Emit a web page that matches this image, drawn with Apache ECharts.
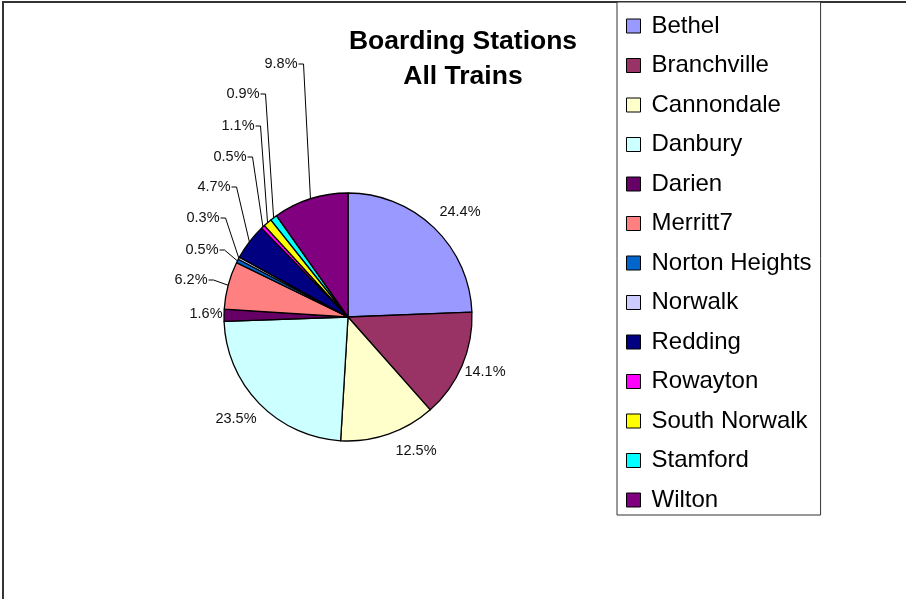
<!DOCTYPE html>
<html>
<head>
<meta charset="utf-8">
<script src="https://cdn.jsdelivr.net/npm/echarts@6/dist/echarts.min.js"></script>
<style>
html,body{margin:0;padding:0;background:#fff;}
#chart{width:906px;height:599px;}
</style>
</head>
<body>
<div id="chart"></div>
<script>
const stations = ['Bethel','Branchville','Cannondale','Danbury','Darien','Merritt7','Norton Heights','Norwalk','Redding','Rowayton','South Norwalk','Stamford','Wilton'];
const shares = [24.4, 14.1, 12.5, 23.5, 1.6, 6.2, 0.5, 0.3, 4.7, 0.5, 1.1, 0.9, 9.8];
const colors = ['#9999FF','#993366','#FFFFCC','#CCFFFF','#660066','#FF8080','#0066CC','#CCCCFF','#000080','#FF00FF','#FFFF00','#00FFFF','#800080'];
const titleLines = ['Boarding Stations','All Trains'];

// label placement (layout only)
const labelPos = [[460,212],[485,372],[416,451],[236,419],[206,314],[191,280],[202,250],[203,218],[214,187],[230,157],[238,126],[243,94],[281,64]];
const withLeader = [false,false,false,false,false,true,true,true,true,true,true,true,true];

const chart = echarts.init(document.getElementById('chart'));
const font = '"Liberation Sans", Arial, sans-serif';

chart.setOption({
  animation: false,
  backgroundColor: '#fff',
  color: colors,
  graphic: [{
    type: 'rect', z: -10, silent: true,
    shape: {x: 3, y: 2, width: 1000, height: 1000},
    style: {fill: 'none', stroke: '#333', lineWidth: 2}
  }],
  title: {
    text: titleLines.join('\n'),
    left: 463, top: 24, padding: 0,
    textAlign: 'center',
    textStyle: {fontFamily: font, fontSize: 26.5, fontWeight: 'bold', color: '#000', lineHeight: 35}
  },
  legend: {
    orient: 'vertical',
    left: 617, top: 2,
    padding: [12, 9, 3, 9],
    backgroundColor: '#fff',
    borderColor: '#333', borderWidth: 1,
    itemWidth: 14, itemHeight: 14, itemGap: 15.5,
    icon: 'rect',
    itemStyle: {borderColor: '#000', borderWidth: 1},
    textStyle: {fontFamily: font, fontSize: 24, color: '#000', lineHeight: 24, padding: [0,0,0,6]},
    data: stations
  },
  series: [{
    type: 'pie',
    center: [348, 317],
    radius: 124,
    startAngle: 90,
    clockwise: true,
    avoidLabelOverlap: false,
    itemStyle: {borderColor: '#000', borderWidth: 1.3},
    label: {
      show: true, position: 'outside',
      formatter: p => p.value.toFixed(1) + '%',
      fontFamily: font, fontSize: 14.5, color: '#111'
    },
    labelLine: {show: true, length: 10, length2: 10, lineStyle: {color: '#000', width: 1}},
    emphasis: {disabled: true},
    labelLayout: function (params) {
      const i = params.dataIndex;
      const p = labelPos[i];
      const w = params.labelRect.width;
      const out = {x: p[0], y: p[1], align: 'center', verticalAlign: 'middle'};
      if (withLeader[i]) {
        const a = params.labelLinePoints ? params.labelLinePoints[0] : null;
        if (a) {
          const rx = p[0] + w / 2 + 1;
          out.labelLinePoints = [a, [rx + 5, p[1]], [rx, p[1]]];
        }
      }
      return out;
    },
    data: stations.map((n, i) => ({
      name: n, value: shares[i],
      labelLine: {show: withLeader[i]}
    }))
  }]
});
</script>
</body>
</html>
